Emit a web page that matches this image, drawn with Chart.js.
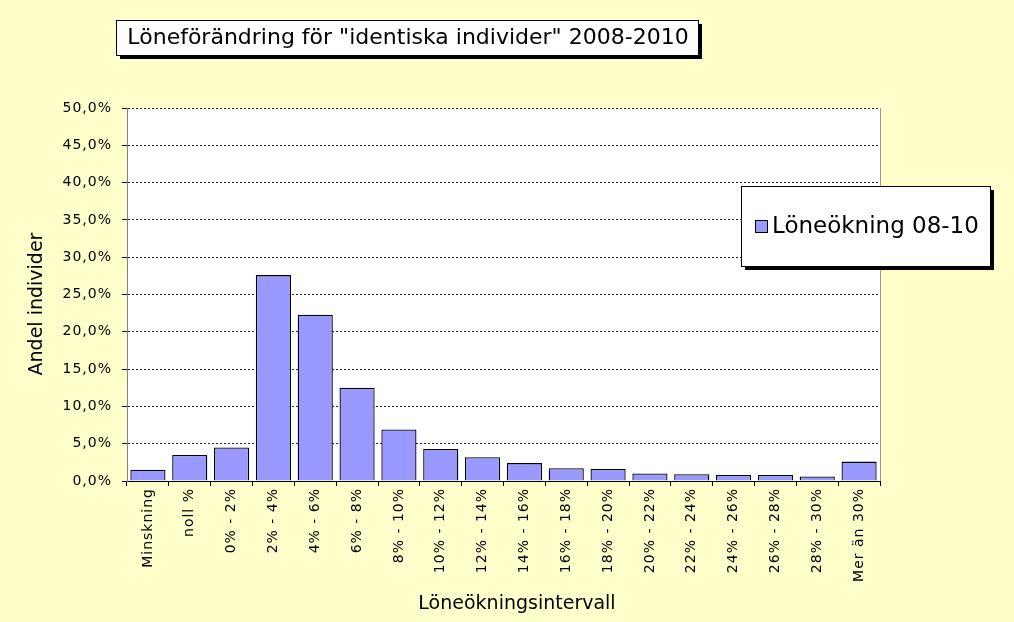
<!DOCTYPE html>
<html>
<head>
<meta charset="utf-8">
<script src="https://cdn.jsdelivr.net/npm/chart.js@4/dist/chart.umd.min.js"></script>
<style>
	html, body { margin: 0; padding: 0; background: #FFFFCC; }
	#chart { display: block; }
</style>
</head>
<body>
<canvas id="chart" width="1014" height="622"></canvas>
<script>
const categories = [
	'Minskning', 'noll %', '0% - 2%', '2% - 4%', '4% - 6%', '6% - 8%',
	'8% - 10%', '10% - 12%', '12% - 14%', '14% - 16%', '16% - 18%', '18% - 20%',
	'20% - 22%', '22% - 24%', '24% - 26%', '26% - 28%', '28% - 30%', 'Mer än 30%'
];
const andelIndivider = [1.5, 3.5, 4.5, 27.6, 22.3, 12.5, 6.9, 4.3, 3.2, 2.4, 1.7, 1.6, 1.0, 0.9, 0.8, 0.8, 0.6, 2.6];
const seriesLabel = 'Löneökning 08-10';
const chartTitle = 'Löneförändring för "identiska individer" 2008-2010';
const xTitle = 'Löneökningsintervall';
const yTitle = 'Andel individer';
const yMin = 0;
const yMax = 50;
const yStep = 5;

const font = 'DejaVu Sans, Verdana, sans-serif';

function shadowBox(ctx, x, y, w, h) {
	ctx.fillStyle = '#000';
	ctx.fillRect(x + 4, y + 4, w, h);
	ctx.fillStyle = '#fff';
	ctx.fillRect(x, y, w, h);
	ctx.strokeStyle = '#000';
	ctx.lineWidth = 1;
	ctx.strokeRect(x + 0.5, y + 0.5, w, h);
}

const excelLook = {
	id: 'excelLook',
	beforeDraw(chart) {
		const { ctx, chartArea: a } = chart;
		ctx.save();
		ctx.fillStyle = '#FFFFCC';
		ctx.fillRect(0, 0, chart.width, chart.height);
		ctx.fillStyle = '#fff';
		ctx.fillRect(a.left, a.top, a.right - a.left, a.bottom - a.top);
		ctx.restore();
	},
	afterDatasetsDraw(chart) {
		// Excel spreads the tick label letters a bit
		chart.ctx.letterSpacing = '1px';
	},
	afterDraw(chart) {
		const { ctx, chartArea: a } = chart;
		ctx.letterSpacing = '0px';
		ctx.save();

		ctx.strokeStyle = '#9a9a9a';
		ctx.beginPath();
		ctx.moveTo(a.right + 0.5, a.top);
		ctx.lineTo(a.right + 0.5, a.bottom);
		ctx.stroke();

		// title box
		shadowBox(ctx, 116, 20, 582, 35);
		ctx.fillStyle = '#000';
		ctx.font = '22px ' + font;
		ctx.textAlign = 'center';
		ctx.textBaseline = 'middle';
		ctx.fillText(chartTitle, 408, 38);

		// legend box
		shadowBox(ctx, 741, 186, 249, 80);
		ctx.fillStyle = '#9999FF';
		ctx.fillRect(755, 220, 13, 13);
		ctx.strokeStyle = '#000';
		ctx.strokeRect(755.5, 220.5, 12, 12);
		ctx.fillStyle = '#000';
		ctx.font = '23px ' + font;
		ctx.textAlign = 'left';
		ctx.fillText(chart.data.datasets[0].label, 772, 227);

		// axis titles
		ctx.font = '19px ' + font;
		ctx.textAlign = 'center';
		ctx.fillText(xTitle, 517, 604);
		ctx.translate(37, 304);
		ctx.rotate(-Math.PI / 2);
		ctx.fillText(yTitle, 0, 0);
		ctx.restore();
	}
};

new Chart(document.getElementById('chart'), {
	type: 'bar',
	data: {
		labels: categories,
		datasets: [{
			label: seriesLabel,
			data: andelIndivider,
			backgroundColor: '#9999FF',
			borderColor: '#000',
			borderWidth: 1.3,
			barPercentage: 1,
			categoryPercentage: 0.84
		}]
	},
	options: {
		responsive: false,
		animation: false,
		events: [],
		layout: { padding: { top: 108, right: 134, left: 0, bottom: 0 } },
		plugins: {
			legend: { display: false },
			title: { display: false },
			tooltip: { enabled: false }
		},
		scales: {
			x: {
				afterFit: (scale) => { scale.height = 141; },
				grid: { offset: true, drawOnChartArea: false, tickLength: 5, color: '#000' },
				border: { color: '#000', width: 1 },
				ticks: {
					autoSkip: false,
					minRotation: 90,
					maxRotation: 90,
					padding: 2,
					color: '#000',
					z: 1,
					font: { family: font, size: 14 }
				}
			},
			y: {
				min: yMin,
				max: yMax,
				afterFit: (scale) => { scale.width = 127; },
				grid: { color: '#222', tickColor: '#000', tickLength: 5, tickBorderDash: [] },
				border: { color: '#808080', width: 1, dash: [2, 2] },
				ticks: {
					stepSize: yStep,
					padding: 10,
					color: '#000',
					z: 1,
					font: { family: font, size: 14 },
					callback: (v) => v.toFixed(1).replace('.', ',') + '%'
				}
			}
		}
	},
	plugins: [excelLook]
});
</script>
</body>
</html>
